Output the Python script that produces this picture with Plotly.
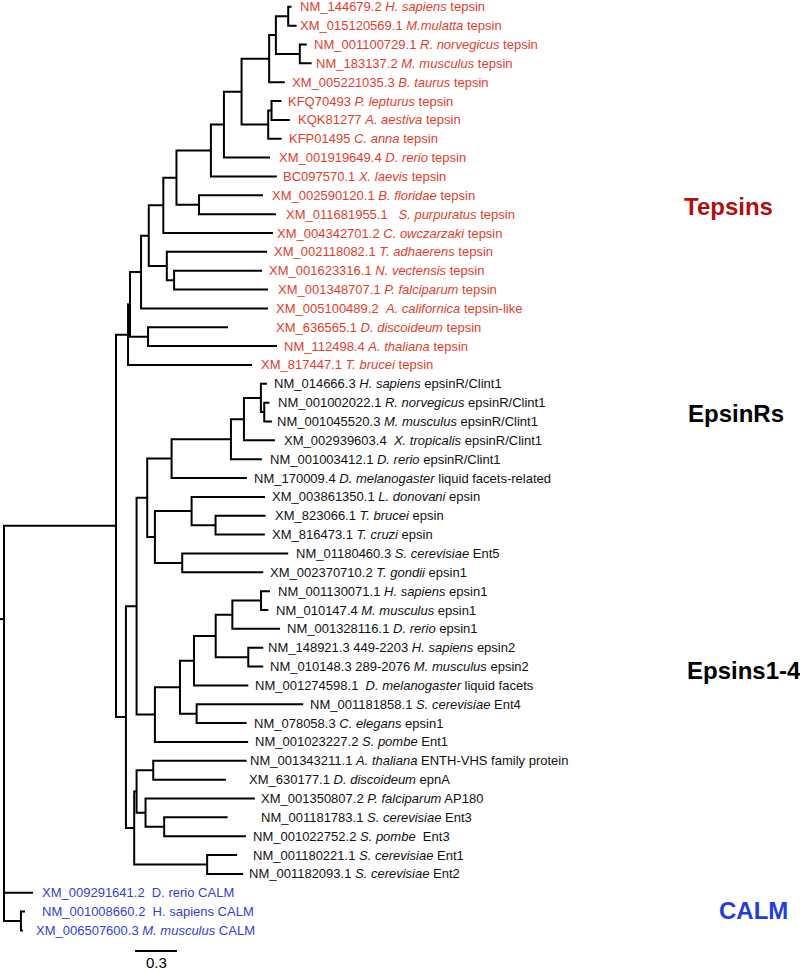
import plotly.graph_objects as go

# ---------------- DATA ----------------
# Tree topology with branch lengths (substitutions/site), leaves L0..L49 in display order
TEPSIN_CORE = "((L0:0.024,L1:0.060):0.088,(L2:0.050,L3:0.084):0.171)"
BIRDS = "((L5:0.071,L6:0.131):0.024,L7:0.096)"
VERT_TEP = "(((" + TEPSIN_CORE + ":0.048,L4:0.112):0.197," + BIRDS + ":0.190):0.126,L8:0.329)"
META_TEP = "((((" + VERT_TEP + ":0.093,L9:0.471):0.246,(L10:0.457,L11:0.550):0.161):0.094,L12:0.784):0.104,(L13:0.716,(L14:0.629,L15:0.671):0.052):0.129)"
TEPSINS = "(((" + META_TEP + ":0.055,L16:0.907):0.079,(L17:0.571,L18:0.921):0.129):0.014,L19:0.886)"

EPSINR_VERT = "((((L20:0.043,(L21:0.037,L22:0.055):0.024):0.121,L23:0.221):0.093,L24:0.221):0.424,L25:0.538)"
EPSINR_PROT = "((L26:0.524,(L27:0.357,L28:0.352):0.171):0.262,(L29:0.757,L30:0.579):0.195)"
EPSINRS = "(" + EPSINR_VERT + ":0.174," + EPSINR_PROT + ":0.055)"
EPSIN_VERT = "(((L31:0.064,L32:0.052):0.205,L33:0.341):0.119,(L34:0.107,L35:0.107):0.233)"
EPSIN_META = "(((" + EPSIN_VERT + ":0.155,L36:0.388):0.100,(L37:0.761,L38:0.357):0.119):0.179,L39:0.666)"
EPSIN_BASAL = "(((L40:0.667,L41:0.519):0.119,(L42:0.781,(L43:0.453,L44:0.584):0.133):0.064):0.017,(L45:0.214,L46:0.257):0.521)"
EPSINS = "((" + EPSINRS + ":0.076," + EPSIN_META + ":0.131):0.076," + EPSIN_BASAL + ":0.059)"

NEWICK = "((" + TEPSINS + ":0.086," + EPSINS + ":0.071):0.800,L47:0.207,(L48:0.029,L49:0.014):0.121);"

ACCESSIONS = [
    "NM_144679.2", "XM_015120569.1", "NM_001100729.1", "NM_183137.2", "XM_005221035.3",
    "KFQ70493", "KQK81277", "KFP01495", "XM_001919649.4", "BC097570.1",
    "XM_002590120.1", "XM_011681955.1\u00a0\u00a0", "XM_004342701.2", "XM_002118082.1", "XM_001623316.1",
    "XM_001348707.1", "XM_005100489.2\u00a0", "XM_636565.1", "NM_112498.4", "XM_817447.1",
    "NM_014666.3", "NM_001002022.1", "NM_001045520.3", "XM_002939603.4\u00a0", "NM_001003412.1",
    "NM_170009.4", "XM_003861350.1", "XM_823066.1", "XM_816473.1", "NM_01180460.3",
    "XM_002370710.2", "NM_001130071.1", "NM_010147.4", "NM_001328116.1", "NM_148921.3 449-2203",
    "NM_010148.3 289-2076", "NM_001274598.1\u00a0", "NM_001181858.1", "NM_078058.3", "NM_001023227.2",
    "NM_001343211.1", "XM_630177.1", "XM_001350807.2", "NM_001181783.1", "NM_001022752.2",
    "NM_001180221.1", "NM_001182093.1", "XM_009291641.2\u00a0", "NM_001008660.2\u00a0", "XM_006507600.3",
]
SPECIES = [
    "H. sapiens", "M.mulatta", "R. norvegicus", "M. musculus", "B. taurus",
    "P. lepturus", "A. aestiva", "C. anna", "D. rerio", "X. laevis",
    "B. floridae", "S. purpuratus", "C. owczarzaki", "T. adhaerens", "N. vectensis",
    "P. falciparum", "A. californica", "D. discoideum", "A. thaliana", "T. brucei",
    "H. sapiens", "R. norvegicus", "M. musculus", "X. tropicalis", "D. rerio",
    "D. melanogaster", "L. donovani", "T. brucei", "T. cruzi", "S. cerevisiae",
    "T. gondii", "H. sapiens", "M. musculus", "D. rerio", "H. sapiens",
    "M. musculus", "D. melanogaster", "S. cerevisiae", "C. elegans", "S. pombe",
    "A. thaliana", "D. discoideum", "P. falciparum", "S. cerevisiae", "S. pombe",
    "S. cerevisiae", "S. cerevisiae", "D. rerio", "H. sapiens", "M. musculus",
]
GENES = [
    "tepsin", "tepsin", "tepsin", "tepsin", "tepsin",
    "tepsin", "tepsin", "tepsin", "tepsin", "tepsin",
    "tepsin", "tepsin", "tepsin", "tepsin", "tepsin",
    "tepsin", "tepsin-like", "tepsin", "tepsin", "tepsin",
    "epsinR/Clint1", "epsinR/Clint1", "epsinR/Clint1", "epsinR/Clint1", "epsinR/Clint1",
    "liquid facets-related", "epsin", "epsin", "epsin", "Ent5",
    "epsin1", "epsin1", "epsin1", "epsin1", "epsin2",
    "epsin2", "liquid facets", "Ent4", "epsin1", "Ent1",
    "ENTH-VHS family protein", "epnA", "AP180", "Ent3", "\u00a0Ent3",
    "Ent1", "Ent2", "CALM", "CALM", "CALM",
]
ITALIC_SPECIES = [True] * 47 + [False, False, True]
GROUP = ["tepsin"] * 20 + ["epsin"] * 27 + ["calm"] * 3

GROUP_TITLES = ["Tepsins", "EpsinRs", "Epsins1-4", "CALM"]
SCALE_LENGTH = 0.3
SCALE_TEXT = "0.3"

# ---------------- LAYOUT / STYLE ----------------
W, H = 800, 971
PX_PER_UNIT = 140.0
ROOT_PX = 4.0
LEAF0_PX = 6.8
LEAF_STEP_PX = 18.85
LABEL_GAP_PX = [8, 3, 7, 4, 7, 7, 8, 7, 9, 6,
                9, 10, 4, 7, 7, 10, 8, 48, 7, 9,
                7, 9, 5, 9, 8, 7, 7, 9, 7, 8,
                7, 8, 8, 7, 5, 7, 7, 7, 7, 7,
                3, 23, 6, 33, 7, 16, 6, 9, 17, 13]
COLORS = {"tepsin": "#e43d2b", "epsin": "#111111", "calm": "#2f3fd8"}
FONT = "Liberation Sans, Arial, Helvetica, sans-serif"


# ---------------- Newick parsing ----------------
def parse_newick(s):
    pos = 0

    def node():
        nonlocal pos
        n = {"children": [], "name": None, "bl": 0.0}
        if s[pos] == "(":
            pos += 1
            n["children"].append(node())
            while s[pos] == ",":
                pos += 1
                n["children"].append(node())
            pos += 1  # ')'
        start = pos
        while s[pos] not in ":,);":
            pos += 1
        name = s[start:pos].strip()
        n["name"] = name or None
        if s[pos] == ":":
            pos += 1
            start = pos
            while s[pos] not in ",);":
                pos += 1
            n["bl"] = float(s[start:pos])
        return n

    return node()


tree = parse_newick(NEWICK)


def layout(n, x):
    n["x"] = x + n["bl"]
    if not n["children"]:
        n["y"] = int(n["name"][1:])
    else:
        for c in n["children"]:
            layout(c, n["x"])
        n["y"] = (n["children"][0]["y"] + n["children"][-1]["y"]) / 2


tree["bl"] = 0.0
layout(tree, 0.0)

xs, ys = [], []
leaves = {}


def draw(n):
    if not n["children"]:
        leaves[int(n["name"][1:])] = n
        return
    ch = n["children"]
    first, last = ch[0], ch[-1]
    xs.extend([first["x"], n["x"], n["x"], last["x"], None])
    ys.extend([first["y"], first["y"], last["y"], last["y"], None])
    for c in ch[1:-1]:
        xs.extend([n["x"], c["x"], None])
        ys.extend([c["y"], c["y"], None])
    for c in ch:
        draw(c)


draw(tree)

# root stub
ROOT_STUB_Y = 32.48
xs.extend([-ROOT_PX / PX_PER_UNIT, 0, None])
ys.extend([ROOT_STUB_Y, ROOT_STUB_Y, None])

fig = go.Figure()
fig.add_trace(go.Scatter(x=xs, y=ys, mode="lines",
                         line=dict(color="black", width=2),
                         hoverinfo="skip", showlegend=False))

annotations = []
for i in range(len(ACCESSIONS)):
    lf = leaves[i]
    sp = f"<i>{SPECIES[i]}</i>" if ITALIC_SPECIES[i] else SPECIES[i]
    txt = f"{ACCESSIONS[i]} {sp} {GENES[i]}"
    annotations.append(dict(
        x=lf["x"] + (LABEL_GAP_PX[i] - 2) / PX_PER_UNIT, y=lf["y"],
        xref="x", yref="y", text=txt, showarrow=False,
        xanchor="left", yanchor="middle",
        font=dict(family=FONT, size=13, color=COLORS[GROUP[i]])))

# group titles
title_pos = [(682, 207, "#b00f12"), (686, 413, "#000000"), (685, 670, "#000000"), (717, 910, "#1f3fd6")]
for t, (px, py, col) in zip(GROUP_TITLES, title_pos):
    annotations.append(dict(x=px / W, y=1 - py / H, xref="paper", yref="paper",
                            text=f"<b>{t}</b>", showarrow=False, xanchor="left", yanchor="middle",
                            font=dict(family=FONT, size=24, color=col)))

# scale bar
sb_x0 = (135 - ROOT_PX) / PX_PER_UNIT
sb_y = (951 - LEAF0_PX) / LEAF_STEP_PX
fig.add_trace(go.Scatter(x=[sb_x0, sb_x0 + SCALE_LENGTH], y=[sb_y, sb_y], mode="lines",
                         line=dict(color="black", width=2), hoverinfo="skip", showlegend=False))
annotations.append(dict(x=sb_x0 + SCALE_LENGTH / 2, y=(962 - LEAF0_PX) / LEAF_STEP_PX,
                        xref="x", yref="y", text=SCALE_TEXT, showarrow=False,
                        xanchor="center", yanchor="middle", borderpad=0,
                        font=dict(family=FONT, size=15, color="black")))

x_min = -ROOT_PX / PX_PER_UNIT
x_max = (W - ROOT_PX) / PX_PER_UNIT
y_top = -LEAF0_PX / LEAF_STEP_PX
y_bot = (H - LEAF0_PX) / LEAF_STEP_PX

fig.update_layout(
    width=W, height=H, margin=dict(l=0, r=0, t=0, b=0),
    paper_bgcolor="white", plot_bgcolor="white",
    xaxis=dict(range=[x_min, x_max], visible=False, fixedrange=True),
    yaxis=dict(range=[y_bot, y_top], visible=False, fixedrange=True),
    annotations=annotations, showlegend=False,
)

fig.write_html("out.html", config={"displayModeBar": False},
               post_script="document.body.style.margin='0px';document.body.style.overflow='hidden';")
